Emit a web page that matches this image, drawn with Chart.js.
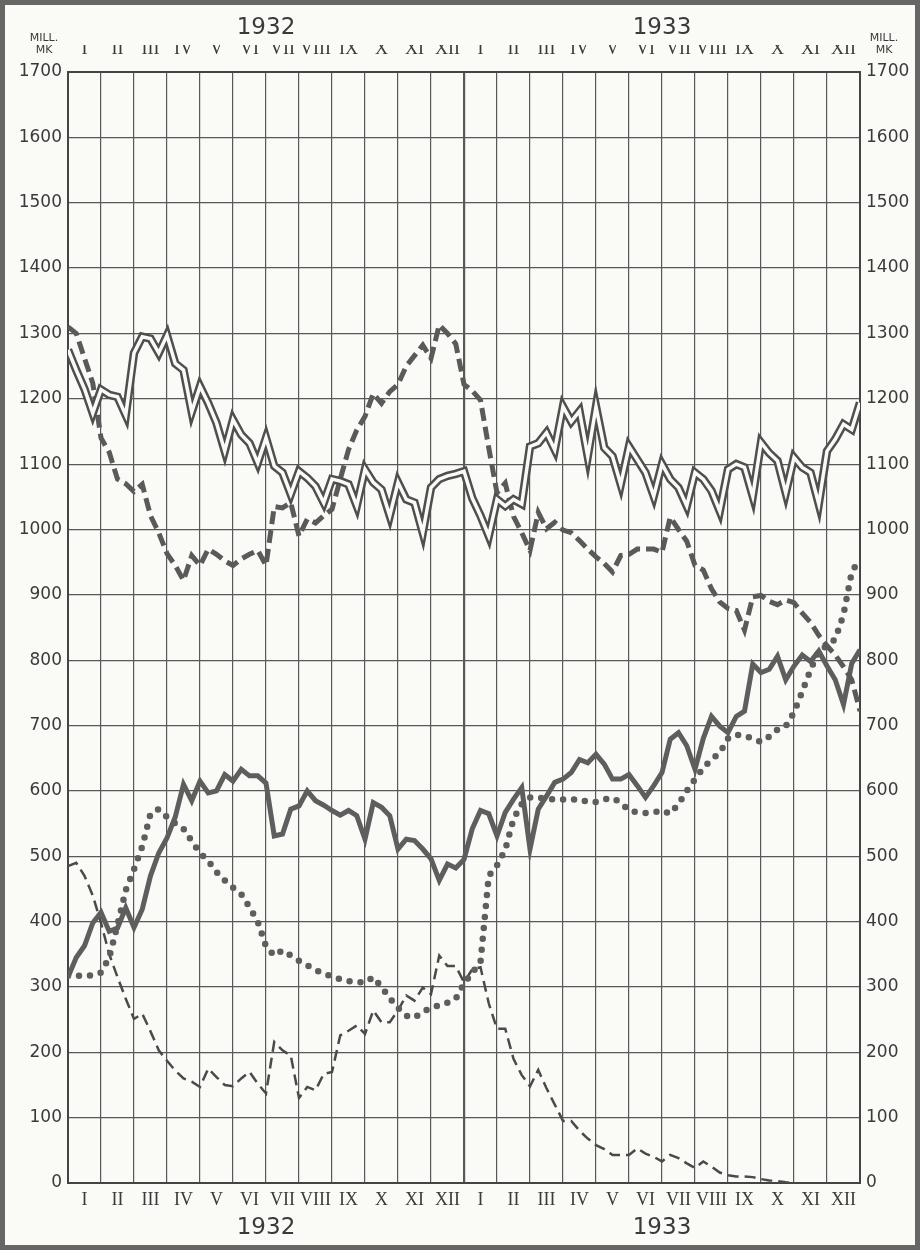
<!DOCTYPE html>
<html>
<head>
<meta charset="utf-8">
<title>1932 - 1933 Mill. Mk</title>
<script src="https://cdn.jsdelivr.net/npm/chart.js@4/dist/chart.umd.min.js"></script>
<style>
  html, body { margin: 0; padding: 0; background: #fafaf7; }
  #wrap { width: 920px; height: 1250px; }
</style>
</head>
<body>
<div id="wrap"><canvas id="myChart" width="920" height="1250"></canvas></div>
<script>
// month / year labels
const months = ['I', 'II', 'III', 'IV', 'V', 'VI', 'VII', 'VIII', 'IX', 'X', 'XI', 'XII'];
const years = ['1932', '1933'];
const yMax = 1700;
const pointsPerMonth = 4;

// weekly values, million marks
const doubleLine = [
  1275, 1244, 1215, 1178, 1214, 1206, 1203, 1175, 1270, 1295,
  1292, 1270, 1297, 1254, 1244, 1180, 1219, 1193, 1163, 1120,
  1168, 1145, 1132, 1102, 1140, 1097, 1087, 1054, 1089, 1079,
  1066, 1041, 1077, 1074, 1069, 1036, 1092, 1072, 1061, 1021,
  1072, 1046, 1041, 995, 1064, 1077, 1082, 1085, 1089, 1048,
  1021, 990, 1046, 1036, 1046, 1039, 1127, 1132, 1148, 1122,
  1188, 1165, 1181, 1112, 1188, 1125, 1112, 1069, 1127, 1107,
  1087, 1051, 1100, 1077, 1064, 1036, 1087, 1077, 1059, 1028,
  1092, 1100, 1095, 1051, 1133, 1117, 1105, 1056, 1110, 1095,
  1087, 1039, 1120, 1138, 1161, 1153, 1194
];
const heavyDashed = [
  1310, 1300, 1262, 1224, 1140, 1118, 1077, 1070, 1058, 1069,
  1021, 995, 963, 945, 922, 960, 945, 970, 962, 952,
  945, 955, 962, 968, 945, 1035, 1033, 1041, 990, 1016,
  1010, 1021, 1031, 1077, 1122, 1152, 1173, 1208, 1193, 1211,
  1222, 1250, 1266, 1282, 1262, 1313, 1300, 1284, 1222, 1212,
  1198, 1125, 1056, 1071, 1020, 995, 968, 1026, 1001, 1011,
  999, 995, 983, 970, 958, 948, 935, 960, 962, 970,
  970, 970, 965, 1019, 1000, 982, 945, 938, 909, 889,
  879, 876, 846, 897, 899, 890, 885, 892, 888, 872,
  858, 838, 822, 808, 790, 770, 722
];
const heavySolid = [
  315, 345, 363, 398, 414, 385, 390, 421, 391, 419,
  470, 505, 528, 560, 610, 585, 615, 597, 600, 625,
  615, 633, 623, 623, 612, 531, 534, 572, 577, 600,
  585, 578, 570, 563, 570, 562, 526, 582, 575, 562,
  511, 526, 524, 511, 496, 463, 488, 482, 495, 542,
  570, 565, 531, 567, 587, 605, 511, 572, 592, 613,
  618, 628, 648, 643, 656, 641, 618, 618, 625, 608,
  590, 608, 628, 679, 689, 669, 633, 680, 714, 699,
  689, 714, 722, 794, 781, 786, 806, 770, 791, 808,
  798, 814, 791, 770, 732, 795, 816
];
const dotted = [
  317, 317, 317, 318, 322, 345, 395, 448, 480, 515,
  565, 572, 560, 550, 542, 523, 505, 493, 476, 463,
  452, 442, 422, 400, 362, 348, 356, 348, 340, 333,
  326, 320, 316, 312, 309, 307, 307, 315, 300, 283,
  268, 256, 253, 262, 268, 272, 276, 282, 305, 322,
  338, 470, 486, 510, 557, 580, 590, 590, 588, 587,
  587, 587, 587, 583, 583, 587, 589, 582, 570, 567,
  566, 567, 570, 565, 580, 600, 618, 635, 648, 658,
  680, 686, 684, 680, 675, 683, 694, 699, 720, 752,
  785, 814, 822, 832, 870, 935, 955
];
const thinDashed = [
  485, 490, 470, 440, 398, 350, 315, 282, 251, 259,
  232, 203, 187, 172, 160, 155, 147, 175, 162, 150,
  148, 160, 170, 152, 137, 216, 203, 195, 130, 147,
  142, 167, 170, 226, 233, 241, 228, 264, 246, 246,
  264, 287, 279, 299, 289, 348, 332, 332, 307, 327,
  330, 275, 236, 236, 190, 165, 148, 173, 145, 120,
  95, 95, 80, 68, 58, 52, 43, 43, 43, 53,
  45, 40, 33, 43, 38, 30, 23, 33, 25, 16,
  12, 10, 10, 9, 6, 4, 3, 1, 0
];

// helpers
function toPoints(arr) {
  return arr.map(function (v, i) { return { x: i / pointsPerMonth, y: v }; });
}
const totalMonths = months.length * years.length;
function monthCentres(scale) {
  const t = [];
  for (let i = 0; i < totalMonths; i++) t.push({ value: i + 0.5 });
  scale.ticks = t;
}
function yearCentres(scale) {
  scale.ticks = years.map(function (y, i) { return { value: i * 12 + 6 }; });
}
function plainNumber(v) { return String(v); }

const ink = '#3a3a3a';
const gridInk = '#585858';
const romanFont = { family: "'Liberation Serif', 'DejaVu Serif', serif", size: 18 };
const yearFont = { family: "'DejaVu Sans', sans-serif", size: 23 };
const numFont = { family: "'DejaVu Sans', sans-serif", size: 17 };

const data = {
  datasets: [
    { // white core of the double line
      data: toPoints(doubleLine), borderColor: '#fafaf7', borderWidth: 3.5, order: 0
    },
    {
      data: toPoints(doubleLine), borderColor: '#4f4f4f', borderWidth: 8.5, order: 1
    },
    {
      data: toPoints(heavyDashed), borderColor: '#5a5a5a', borderWidth: 5,
      borderDash: [13, 6], order: 2
    },
    {
      data: toPoints(heavySolid), borderColor: '#5e5e5e', borderWidth: 5, order: 3
    },
    {
      data: toPoints(dotted), borderColor: '#5e5e5e', borderWidth: 6.5,
      borderDash: [0, 11], borderCapStyle: 'round', order: 4
    },
    {
      data: toPoints(thinDashed), borderColor: '#4a4a4a', borderWidth: 2.5,
      borderDash: [11, 6], order: 5
    }
  ]
};

// paper, frame and the MILL. MK captions
const paper = {
  id: 'paper',
  beforeDraw(chart) {
    const ctx = chart.ctx;
    ctx.save();
    ctx.fillStyle = '#fafaf7';
    ctx.fillRect(0, 0, chart.width, chart.height);
    ctx.restore();
  },
  afterDraw(chart) {
    const ctx = chart.ctx;
    const a = chart.chartArea;
    ctx.save();
    ctx.strokeStyle = '#666';
    ctx.lineWidth = 5;
    ctx.strokeRect(2.5, 2.5, chart.width - 5, chart.height - 5);
    ctx.fillStyle = ink;
    ctx.font = "11px 'DejaVu Sans', sans-serif";
    ctx.textAlign = 'center';
    ctx.textBaseline = 'middle';
    ctx.fillText('MILL.', a.left - 24, 38);
    ctx.fillText('MK', a.left - 24, 50);
    ctx.fillText('MILL.', a.right + 24, 38);
    ctx.fillText('MK', a.right + 24, 50);
    ctx.restore();
  }
};

const noGrid = { display: false, drawTicks: false };
const noBorder = { display: false };

const config = {
  type: 'line',
  data: data,
  options: {
    responsive: false,
    animation: false,
    events: [],
    layout: { padding: 0 },
    elements: {
      line: { tension: 0, fill: false },
      point: { radius: 0 }
    },
    plugins: { legend: { display: false }, tooltip: { enabled: false } },
    scales: {
      x: {
        type: 'linear', position: 'bottom', min: 0, max: totalMonths, weight: 0,
        ticks: { stepSize: 1, display: false },
        grid: {
          color: gridInk, drawTicks: false,
          lineWidth: function (c) { return c.tick && c.tick.value === 12 ? 2.2 : 1.2; }
        },
        border: { color: '#444', width: 2 },
        afterFit: function (s) { s.height = 0; }
      },
      xMonths: {
        type: 'linear', position: 'bottom', min: 0, max: totalMonths, weight: 1,
        afterBuildTicks: monthCentres,
        ticks: {
          autoSkip: false, maxRotation: 0, padding: 6, color: ink, font: romanFont,
          callback: function (v) { return months[Math.floor(v) % 12]; }
        },
        grid: noGrid, border: noBorder,
        afterFit: function (s) { s.height = 25; }
      },
      xYears: {
        type: 'linear', position: 'bottom', min: 0, max: totalMonths, weight: 2,
        afterBuildTicks: yearCentres,
        ticks: {
          autoSkip: false, maxRotation: 0, padding: 6, color: ink, font: yearFont,
          callback: function (v) { return years[Math.floor(v / 12)]; }
        },
        grid: noGrid, border: noBorder,
        afterFit: function (s) { s.height = 42; }
      },
      xMonthsTop: {
        type: 'linear', position: 'top', min: 0, max: totalMonths, weight: 1,
        afterBuildTicks: monthCentres,
        ticks: {
          autoSkip: false, maxRotation: 0, padding: 12, color: ink, font: romanFont,
          callback: function (v) { return months[Math.floor(v) % 12]; }
        },
        grid: noGrid,
        border: { color: '#444', width: 2 },
        afterFit: function (s) { s.height = 27; }
      },
      xYearsTop: {
        type: 'linear', position: 'top', min: 0, max: totalMonths, weight: 2,
        afterBuildTicks: yearCentres,
        ticks: {
          autoSkip: false, maxRotation: 0, padding: 3, color: ink, font: yearFont,
          callback: function (v) { return years[Math.floor(v / 12)]; }
        },
        grid: noGrid, border: noBorder,
        afterFit: function (s) { s.height = 45; }
      },
      y: {
        position: 'left', min: 0, max: yMax,
        ticks: { stepSize: 100, padding: 6, color: ink, font: numFont, callback: plainNumber },
        grid: { color: gridInk, lineWidth: 1.2, drawTicks: false },
        border: { color: '#444', width: 2 },
        afterFit: function (s) { s.width = 68; }
      },
      y2: {
        position: 'right', min: 0, max: yMax,
        ticks: { stepSize: 100, padding: 6, color: ink, font: numFont, callback: plainNumber },
        grid: noGrid,
        border: { color: '#444', width: 2 },
        afterFit: function (s) { s.width = 60; }
      }
    }
  },
  plugins: [paper]
};

const myChart = new Chart(document.getElementById('myChart'), config);
</script>
</body>
</html>
